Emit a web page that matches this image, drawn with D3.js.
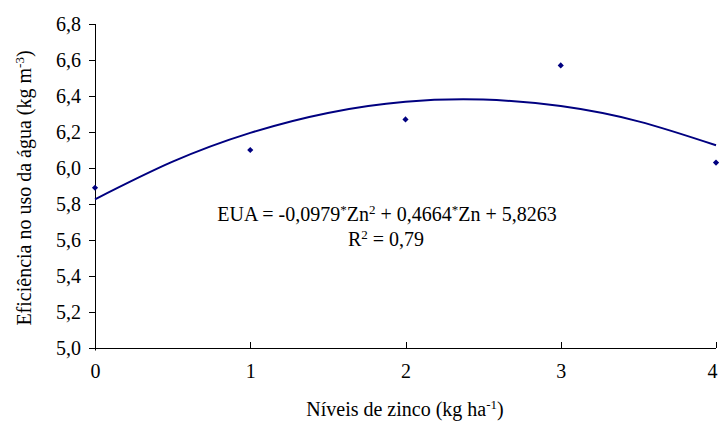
<!DOCTYPE html>
<html><head><meta charset="utf-8">
<script src="https://cdn.jsdelivr.net/npm/d3@7"></script>
<style>body{margin:0;background:#fff}svg{display:block}</style>
</head><body><svg id="c" width="719" height="423"></svg>
<script>
const zincLevels = [0, 1, 2, 3, 4];
const euaValues = [5.89, 6.10, 6.27, 6.57, 6.03];
const trendX = [0, 0.5, 1, 1.5, 2, 2.5, 3, 3.5, 4];
const trendY = [5.826, 6.035, 6.195, 6.306, 6.368, 6.380, 6.344, 6.259, 6.126];
const yTicks = [5.0, 5.2, 5.4, 5.6, 5.8, 6.0, 6.2, 6.4, 6.6, 6.8];
const xTicks = [0, 1, 2, 3, 4];

const FONT = "'Liberation Serif', Tinos, 'Times New Roman', Times, 'DejaVu Serif', 'Noto Serif', serif";
const FS = 20, SUP = 13;
const svg = d3.select("#c").attr("font-family", FONT);
const x = d3.scaleLinear().domain([0, 4]).range([95, 716]);
const y = d3.scaleLinear().domain([5.0, 6.8]).range([348, 24]);
const fmt = d => d.toFixed(1).replace(".", ",");
const color = "#000080";

const yAxis = svg.append("g").attr("transform", "translate(95,0)")
  .call(d3.axisLeft(y).tickValues(yTicks).tickFormat(fmt).tickSize(6).tickPadding(8));
const xAxis = svg.append("g").attr("transform", "translate(0,348)")
  .call(d3.axisBottom(x).tickValues(xTicks).tickFormat(d => d).tickSize(0).tickPadding(16));
[yAxis, xAxis].forEach(g => {
  g.attr("font-family", FONT).attr("font-size", FS);
  g.selectAll("text").attr("fill", "#000");
  g.selectAll("line,path").attr("stroke", "#000").attr("stroke-width", 1);
});
yAxis.select(".domain").attr("d", "M0.5,24V350.5");
xAxis.select(".domain").attr("d", "M95,0.5H716");
xAxis.selectAll(".tick text").filter(d => d === 4).attr("text-anchor", "end").attr("dx", 1);
svg.append("g").selectAll("line").data(xTicks.slice(1)).join("line")
  .attr("x1", d => Math.round(x(d)) + 0.5).attr("x2", d => Math.round(x(d)) + 0.5)
  .attr("y1", 348).attr("y2", 342).attr("stroke", "#000");

const line = d3.line().x(d => x(d[0])).y(d => y(d[1])).curve(d3.curveNatural);
svg.append("path").datum(trendX.map((v, i) => [v, trendY[i]]))
  .attr("d", line).attr("fill", "none").attr("stroke", color).attr("stroke-width", 2);

svg.append("g").selectAll("path").data(zincLevels.map((v, i) => [v, euaValues[i]])).join("path")
  .attr("transform", d => `translate(${x(d[0])},${y(d[1])})`)
  .attr("d", d3.symbol(d3.symbolDiamond2, 24)).attr("fill", color);

function supText(parent, parts) {
  let raised = false;
  parts.forEach(([t, sup]) => {
    const ts = parent.append("tspan").text(t);
    if (sup) { ts.attr("dy", raised ? 0 : -7).attr("font-size", SUP); raised = true; }
    else { if (raised) ts.attr("dy", 7); ts.attr("font-size", FS); raised = false; }
  });
}
const eq = svg.append("text").attr("x", 387).attr("y", 221).attr("text-anchor", "middle").attr("font-size", FS);
supText(eq, [["EUA = -0,0979"], ["*", 1], ["Zn"], ["2", 1], [" + 0,4664"], ["*", 1], ["Zn + 5,8263"]]);
const r2 = svg.append("text").attr("x", 386).attr("y", 246).attr("text-anchor", "middle").attr("font-size", FS);
supText(r2, [["R"], ["2", 1], [" = 0,79"]]);

const xt = svg.append("text").attr("x", 405).attr("y", 416).attr("text-anchor", "middle").attr("font-size", FS);
supText(xt, [["Níveis de zinco (kg ha"], ["-1", 1], [")"]]);

const yt = svg.append("text").attr("transform", "translate(31,188) rotate(-90)").attr("text-anchor", "middle").attr("font-size", FS);
supText(yt, [["Eficiência no uso da água (kg m"], ["-3", 1], [")"]]);
</script></body></html>
